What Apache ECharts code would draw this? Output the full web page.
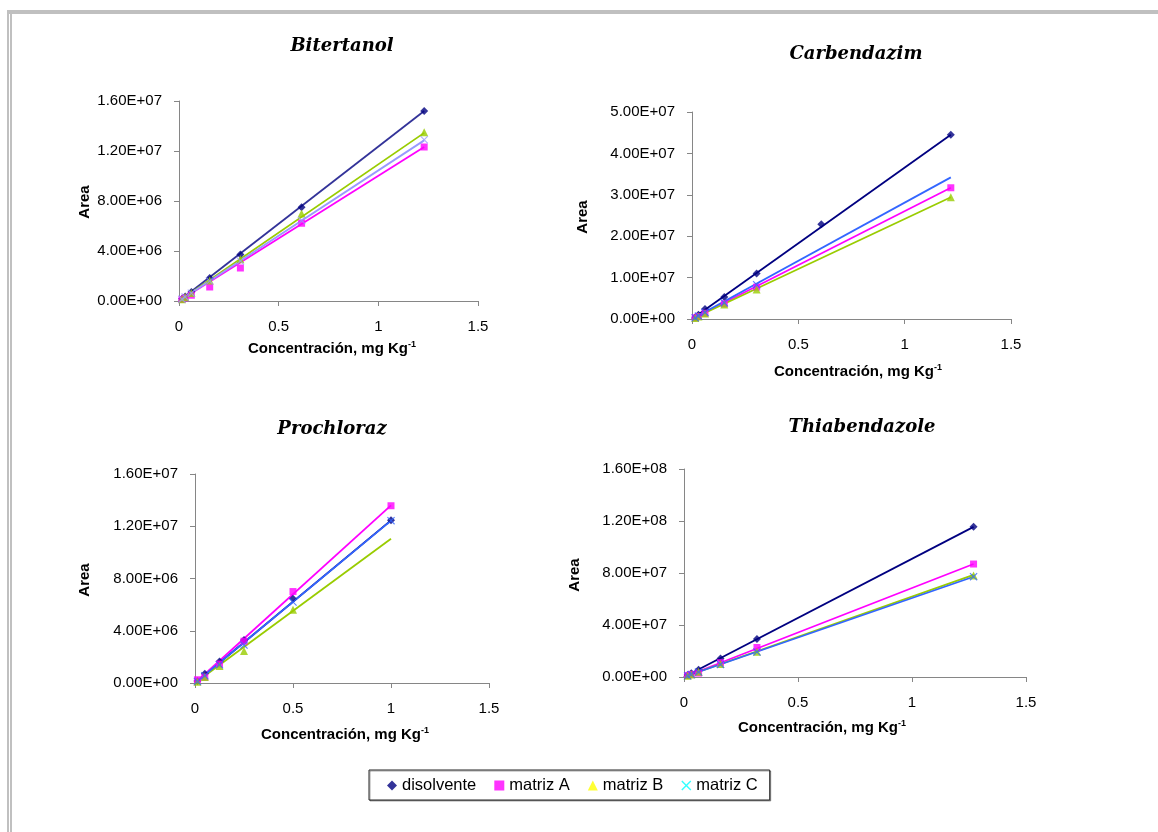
<!DOCTYPE html>
<html>
<head>
<meta charset="utf-8">
<script src="https://cdn.jsdelivr.net/npm/echarts@6/dist/echarts.min.js"></script>
<style>
html,body{margin:0;padding:0;background:#fff;}
#chart{width:1158px;height:832px;}
</style>
</head>
<body>
<div id="chart"></div>
<script>
// ---------------- DATA ----------------
const seriesNames = ['disolvente', 'matriz A', 'matriz B', 'matriz C'];
const panelTitles = ['Bitertanol', 'Carbendazim', 'Prochloraz', 'Thiabendazole'];
const xTicks = [0, 0.5, 1, 1.5];
const yMaxes = [1.6e7, 5e7, 1.6e7, 1.6e8];
const yIntervals = [4e6, 1e7, 4e6, 4e7];
const xAxisTitle = 'Concentración, mg Kg';
const yAxisTitle = 'Area';

// Bitertanol
const bitX   = [0.015, 0.031, 0.062, 0.154, 0.308, 0.615, 1.23];
const bitDis = [1.8e5, 3.7e5, 7.2e5, 1.85e6, 3.72e6, 7.5e6, 1.52e7];
const bitA   = [1.2e5, 2.5e5, 4.6e5, 1.12e6, 2.64e6, 6.22e6, 1.232e7];
const bitB   = [1.5e5, 3.3e5, 6.5e5, 1.65e6, 3.35e6, 7.0e6, 1.35e7];
const bitC   = [1.5e5, 3.2e5, 6.3e5, 1.6e6, 3.2e6, 6.45e6, 1.29e7];
const bitTrendX = [0, 1.23];
const bitTrendY = [[0, 1.52e7], [0, 1.232e7], [0, 1.345e7], [0, 1.285e7]];

// Carbendazim
const carX   = [0.0152, 0.0304, 0.061, 0.152, 0.304, 0.608, 1.217];
const carDis = [4.5e5, 1.0e6, 2.4e6, 5.3e6, 1.10e7, 2.29e7, 4.45e7];
const carA   = [3e5, 6e5, 1.4e6, 3.7e6, 7.7e6, null, 3.17e7];
const carB   = [2.5e5, 6e5, 1.3e6, 3.5e6, 7.1e6, null, 2.94e7];
const carC   = [3e5, 7e5, 1.6e6, 3.9e6, 8.3e6, null, null];
const carTrendX = [0, 1.217];
const carTrendY = [[0, 4.45e7], [0, 3.17e7], [0, 2.94e7], [0, 3.42e7]];

// Prochloraz
const proX   = [0.0125, 0.05, 0.125, 0.25, 0.5, 1.0];
const proDis = [1.5e5, 7e5, 1.65e6, 3.3e6, 6.45e6, 1.245e7];
const proA   = [2.5e5, 4.5e5, 1.45e6, 3.2e6, 7.0e6, 1.357e7];
const proB   = [1e5, 4.5e5, 1.3e6, 2.45e6, 5.6e6, null];
const proC   = [1.2e5, 5.5e5, 1.4e6, 2.9e6, 6.2e6, 1.243e7];
const proTrendX = [0, 1.0];
const proTrendY = [[0, 1.245e7], [0, 1.36e7], [0, 1.105e7], [0, 1.243e7]];

// Thiabendazole
const thiX   = [0.016, 0.032, 0.064, 0.16, 0.32, 1.27];
const thiDis = [1.5e6, 2.8e6, 5.5e6, 1.42e7, 2.93e7, 1.155e8];
const thiA   = [1.2e6, 2.0e6, 3.0e6, 1.1e7, 2.27e7, 8.69e7];
const thiB   = [1.0e6, 2.0e6, 4.0e6, 1.0e7, 1.95e7, 7.8e7];
const thiC   = [1.0e6, 1.9e6, 3.8e6, 9.7e6, 1.93e7, 7.72e7];
const thiTrendX = [0, 1.27];
const thiTrendY = [[0, 1.155e8], [0, 8.69e7], [0, 7.85e7], [0, 7.71e7]];

// ---------------- LAYOUT / STYLE ----------------
const panels = [
  {x: bitX, ys: [bitDis, bitA, bitB, bitC], tx: bitTrendX, ty: bitTrendY},
  {x: carX, ys: [carDis, carA, carB, carC], tx: carTrendX, ty: carTrendY},
  {x: proX, ys: [proDis, proA, proB, proC], tx: proTrendX, ty: proTrendY},
  {x: thiX, ys: [thiDis, thiA, thiB, thiC], tx: thiTrendX, ty: thiTrendY}
];
const grids = [
  {left: 179, top: 101, width: 299, height: 200},
  {left: 692, top: 112, width: 319, height: 207},
  {left: 195, top: 474, width: 294, height: 209},
  {left: 684, top: 469, width: 342, height: 208}
];
const titlePos = [[342, 37], [856, 45], [332, 420], [862, 418]];
const yNamePos = [[85, 202], [583, 217], [85, 580], [575, 575]];
const xNamePos = [[332, 349], [858, 372], [345, 735], [822, 728]];

const crossPath = 'path://M0,1L1,0L5,4L9,0L10,1L6,5L10,9L9,10L5,6L1,10L0,9L4,5Z';
const markerSymbols = ['diamond', 'rect', 'triangle', crossPath];
const markerSizes = [8, 7, 8, 8];
const lineColorsByPanel = [
  ['#333399', '#FF00FF', '#99CC00', '#9999FF'],
  ['#000080', '#FF00FF', '#99CC00', '#3366FF'],
  ['#000080', '#FF00FF', '#99CC00', '#3366FF'],
  ['#000080', '#FF00FF', '#99CC00', '#3366FF']
];
const markerColorsByPanel = [
  ['#000080', '#FF00FF', '#99CC00', '#9999FF'],
  ['#000080', '#FF00FF', '#99CC00', '#3366FF'],
  ['#000080', '#FF00FF', '#99CC00', '#3366FF'],
  ['#000080', '#FF00FF', '#99CC00', '#3366FF']
];
const legendColors = ['#000080', '#FF00FF', '#FFFF00', '#00FFFF'];

const FONT = 'Liberation Sans, Arial, sans-serif';
const axisGray = '#868686';

function sci(v) {
  const parts = Number(v).toExponential(2).split('e');
  const sign = parts[1][0];
  const digits = parts[1].slice(1).padStart(2, '0');
  return parts[0] + 'E' + sign + digits;
}

const option = {
  animation: false,
  backgroundColor: '#ffffff',
  title: panelTitles.map((t, i) => ({
    text: t,
    left: titlePos[i][0],
    top: titlePos[i][1],
    textAlign: 'center',
    padding: 0,
    textStyle: {fontFamily: 'DejaVu Serif, serif', fontWeight: 'bold', fontStyle: 'italic', fontSize: 18, color: '#000'}
  })),
  grid: grids.map(g => Object.assign({containLabel: false}, g)),
  xAxis: grids.map((g, i) => ({
    type: 'value', gridIndex: i, min: xTicks[0], max: xTicks[xTicks.length - 1], interval: xTicks[1] - xTicks[0],
    axisLine: {show: true, onZero: false, lineStyle: {color: axisGray, width: 1}},
    axisTick: {show: true, inside: false, length: 5, lineStyle: {color: axisGray}},
    axisLabel: {margin: 18, fontFamily: FONT, fontSize: 15, color: '#000'},
    splitLine: {show: false}
  })),
  yAxis: grids.map((g, i) => ({
    type: 'value', gridIndex: i, min: 0, max: yMaxes[i], interval: yIntervals[i],
    axisLine: {show: true, lineStyle: {color: axisGray, width: 1}},
    axisTick: {show: true, inside: false, length: 5, lineStyle: {color: axisGray}},
    axisLabel: {margin: 17, fontFamily: FONT, fontSize: 15, color: '#000', formatter: sci},
    splitLine: {show: false}
  })),
  legend: {
    data: seriesNames,
    left: 369, top: 770,
    orient: 'horizontal',
    itemWidth: 10, itemHeight: 10, itemGap: 18,
    padding: [7, 12, 6, 18],
    borderColor: '#222', borderWidth: 1,
    backgroundColor: '#fff',
    shadowColor: 'rgba(0,0,0,0.35)', shadowOffsetX: 1, shadowOffsetY: 1,
    selectedMode: false,
    textStyle: {fontFamily: FONT, fontSize: 16.5, color: '#000', padding: [0, 0, 0, 0]}
  },
  graphic: [],
  series: []
};

// legend-only series (first, so the legend takes their symbols/colors)
seriesNames.forEach((n, s) => {
  option.series.push({
    name: n, type: 'scatter', xAxisIndex: 0, yAxisIndex: 0, data: [],
    symbol: markerSymbols[s], symbolSize: markerSizes[s],
    itemStyle: {color: legendColors[s]}
  });
});

panels.forEach((p, i) => {
  // trendlines
  p.ty.forEach((ty, s) => {
    option.series.push({
      name: seriesNames[s] + ' (tendencia ' + panelTitles[i] + ')',
      type: 'line', xAxisIndex: i, yAxisIndex: i,
      data: p.tx.map((x, k) => [x, ty[k]]),
      showSymbol: false, symbol: 'none', silent: true,
      lineStyle: {color: lineColorsByPanel[i][s], width: 1.8},
      z: 2
    });
  });
  // markers
  p.ys.forEach((ys, s) => {
    const pts = [];
    p.x.forEach((x, k) => { if (ys[k] !== null && ys[k] !== undefined) pts.push([x, ys[k]]); });
    option.series.push({
      name: seriesNames[s] + ' ' + panelTitles[i],
      type: 'scatter', xAxisIndex: i, yAxisIndex: i,
      data: pts,
      symbol: markerSymbols[s], symbolSize: markerSizes[s],
      itemStyle: {color: markerColorsByPanel[i][s]},
      z: 3
    });
  });
  // axis names
  option.graphic.push({
    type: 'text', x: yNamePos[i][0], y: yNamePos[i][1], rotation: Math.PI / 2,
    style: {text: yAxisTitle, fontFamily: FONT, fontWeight: 'bold', fontSize: 15, fill: '#000', align: 'center', verticalAlign: 'middle'}
  });
  option.graphic.push({
    type: 'text', x: xNamePos[i][0], y: xNamePos[i][1],
    style: {
      text: xAxisTitle + '{sup|-1}', fontFamily: FONT, fontWeight: 'bold', fontSize: 15, fill: '#000',
      align: 'center', verticalAlign: 'middle', lineHeight: 18,
      rich: {sup: {fontFamily: FONT, fontWeight: 'bold', fontSize: 9, fill: '#000', verticalAlign: 'top', lineHeight: 18, padding: [0, 0, 8, 0]}}
    }
  });
});

// page frame
option.graphic.push(
  {type: 'rect', shape: {x: 7, y: 10, width: 1151, height: 4}, style: {fill: '#c0c0c0'}, silent: true},
  {type: 'rect', shape: {x: 7, y: 10, width: 2, height: 822}, style: {fill: '#c0c0c0'}, silent: true},
  {type: 'rect', shape: {x: 10, y: 12, width: 2, height: 820}, style: {fill: '#c0c0c0'}, silent: true}
);

const chart = echarts.init(document.getElementById('chart'), null, {renderer: 'canvas'});
chart.setOption(option);
</script>
</body>
</html>
